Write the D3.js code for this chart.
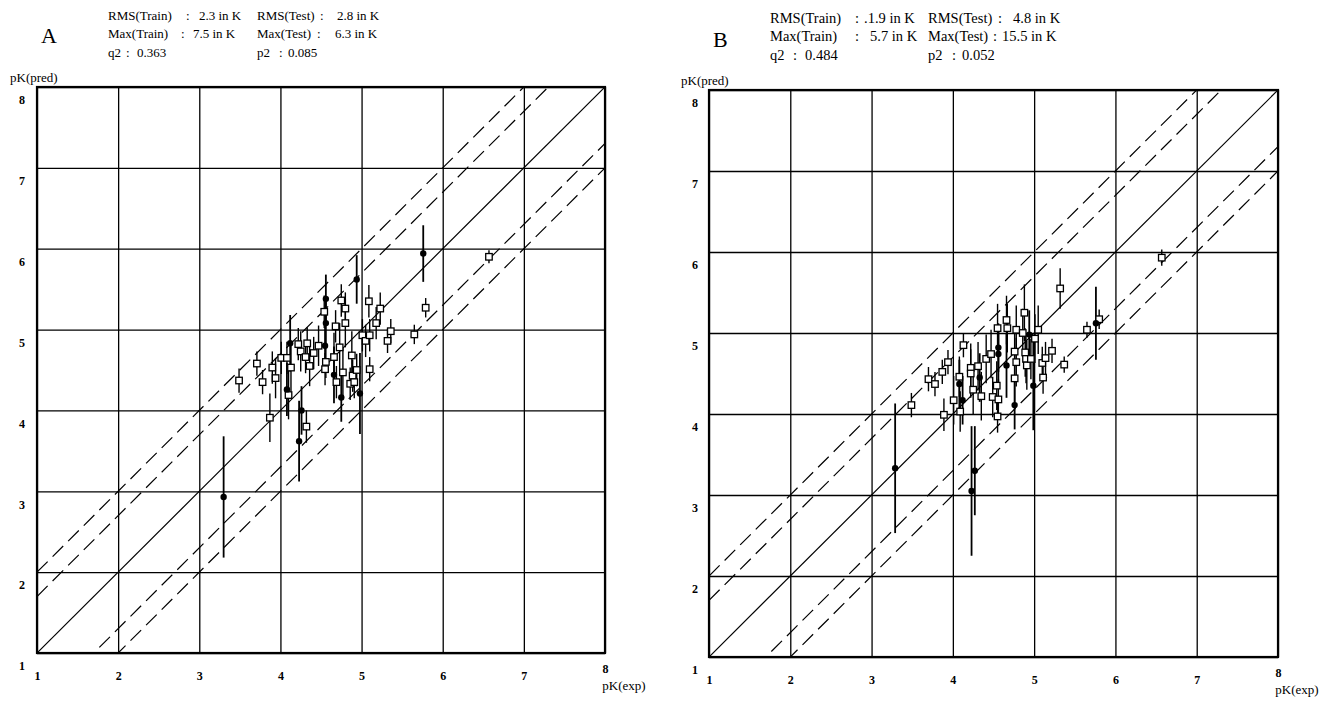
<!DOCTYPE html>
<html><head><meta charset="utf-8">
<script src="https://cdn.jsdelivr.net/npm/d3@7/dist/d3.min.js"></script>
<style>
body{margin:0;background:#fff;}
svg{display:block;}
text{font-family:"Liberation Serif","Times New Roman",serif;fill:#000;}
</style></head><body>
<svg id="c" width="1322" height="701"></svg>
<script>
// ---------- data ----------
const tickValues = [1,2,3,4,5,6,7,8];
const tickLabels = ["1","2","3","4","5","6","7","8"];
const diagOffsets = [0, 0.699, -0.699, 1, -1]; // y = x + c  (factor 5 and 10)

// Panel A – training set (open squares)
const trainA_x = [3.49,3.71,3.78,3.90,3.94,3.87,4.01,4.08,4.10,4.13,4.22,4.25,4.32,4.31,4.33,4.36,4.41,4.47,4.56,4.55,4.66,4.68,4.73,4.69,4.77,4.80,4.88,4.86,4.89,4.91,4.94,5.01,5.05,5.10,5.10,5.18,5.36,5.32,5.65,6.57,5.79,5.23,4.54,4.75,4.80,5.09];
const trainA_y = [4.37,4.58,4.35,4.53,4.40,3.91,4.65,4.65,4.19,4.53,4.82,4.73,3.80,4.66,4.83,4.55,4.71,4.80,4.60,4.51,4.66,5.04,4.78,4.35,4.47,5.08,4.68,4.33,4.43,4.35,4.50,4.93,4.86,4.93,4.51,5.08,4.98,4.86,4.94,5.90,5.27,5.26,5.22,5.36,5.26,5.35];
const trainA_e = [0.15,0.15,0.15,0.20,0.25,0.30,0.20,0.20,0.30,0.30,0.20,0.25,0.20,0.20,0.20,0.25,0.20,0.25,0.20,0.20,0.30,0.20,0.30,0.20,0.30,0.30,0.30,0.20,0.20,0.20,0.20,0.20,0.20,0.20,0.15,0.20,0.15,0.15,0.12,0.08,0.12,0.20,0.20,0.20,0.20,0.20];
// Panel A – test set (filled markers)
const testA_x = [3.30,4.26,4.23,4.08,4.12,4.56,4.55,4.66,4.75,4.98,5.76,4.94,4.56];
const testA_y = [2.93,4.00,3.62,4.26,4.83,5.08,4.80,4.44,4.16,4.21,5.94,5.62,5.38];
const testA_e = [0.75,0.30,0.50,0.33,0.35,0.30,0.30,0.35,0.30,0.50,0.35,0.30,0.30];

// Panel B – training set (open squares)
const trainB_x = [3.49,3.89,3.70,3.78,3.87,3.94,4.13,4.01,4.09,4.08,4.22,4.22,4.31,4.25,4.35,4.41,4.47,4.54,4.49,4.56,4.55,4.55,4.66,4.67,4.76,4.78,4.88,4.86,4.78,4.76,4.89,4.90,4.91,5.01,5.05,4.96,5.10,5.11,5.14,5.22,5.32,5.37,5.65,5.80,6.57];
const trainB_y = [4.11,3.99,4.43,4.37,4.52,4.64,4.85,4.17,4.03,4.46,4.57,4.50,4.59,4.30,4.22,4.68,4.74,4.35,4.21,4.18,3.97,5.06,5.16,5.06,4.77,5.04,5.25,5.00,4.64,4.44,4.76,4.68,4.60,4.93,5.04,4.68,4.63,4.45,4.69,4.78,5.55,4.61,5.04,5.17,5.93];
const trainB_e = [0.15,0.20,0.15,0.15,0.15,0.15,0.15,0.30,0.25,0.25,0.30,0.30,0.30,0.30,0.30,0.30,0.30,0.30,0.25,0.25,0.20,0.30,0.30,0.30,0.30,0.30,0.35,0.30,0.30,0.30,0.30,0.30,0.30,0.30,0.30,0.25,0.20,0.20,0.20,0.15,0.25,0.10,0.10,0.12,0.10];
// Panel B – test set (filled markers)
const testB_x = [3.29,4.27,4.23,4.08,4.12,4.33,4.56,4.56,4.66,4.76,4.94,4.99,5.76];
const testB_y = [3.33,3.30,3.05,4.37,4.17,4.45,4.82,4.74,4.60,4.11,4.98,4.35,5.12];
const testB_e = [0.80,0.55,0.80,0.30,0.30,0.30,0.30,0.35,0.40,0.30,0.30,0.55,0.45];

// Header texts: [label, value] per cell, rows of two columns
const headerA_letter = "A";
const headerA_rows = [[["RMS(Train)","2.3 in K"],["RMS(Test)","2.8 in K"]],
                      [["Max(Train)","7.5 in K"],["Max(Test)","6.3 in K"]],
                      [["q2","0.363"],["p2","0.085"]]];
const headerB_letter = "B";
const headerB_rows = [[["RMS(Train)",".1.9 in K"],["RMS(Test)","4.8 in K"]],
                      [["Max(Train)","5.7 in K"],["Max(Test)","15.5 in K"]],
                      [["q2","0.484"],["p2","0.052"]]];

// ---------- drawing ----------
const svg = d3.select("#c");

function panel(cfg){
  const {x0,x1,y0,y1,train,test,id} = cfg;
  const x = d3.scaleLinear().domain([1,8]).range([x0,x1]);
  const y = d3.scaleLinear().domain([1,8]).range([y1,y0]);
  const g = svg.append("g");

  // header
  g.append("text").attr("x",cfg.letterX).attr("y",cfg.letterY).attr("font-size",22).text(cfg.letter);
  cfg.rows.forEach((r,i)=>{
    r.forEach((cell,j)=>{
      const lay = cfg.layout[i][j];
      const yy = cfg.rowY[i];
      g.append("text").attr("x",lay[0]).attr("y",yy).attr("font-size",cfg.fs).text(cell[0]);
      g.append("text").attr("x",lay[1]).attr("y",yy).attr("font-size",cfg.fs).text(":");
      g.append("text").attr("x",lay[2]).attr("y",yy).attr("font-size",cfg.fs).text(cell[1]);
    });
  });
  g.append("text").attr("x",cfg.predX).attr("y",y0-5).attr("font-size",13).text("pK(pred)");

  // clip
  svg.append("clipPath").attr("id","clip"+id).append("rect")
    .attr("x",x0).attr("y",y0).attr("width",x1-x0).attr("height",y1-y0);

  // grid via axes
  const gx = g.append("g").attr("transform",`translate(0,${y1})`)
    .call(d3.axisBottom(x).tickValues(tickValues).tickSize(-(y1-y0)).tickFormat((d,i)=>tickLabels[i]).tickPadding(0));
  gx.select(".domain").remove();
  gx.selectAll("line").attr("stroke","#000").attr("stroke-width",1.3);
  gx.selectAll("text").attr("font-family","Liberation Serif").attr("font-weight","bold").attr("font-size",12)
    .attr("dy",null).attr("y",(d)=> d===8?20:27);
  g.append("text").attr("x",x(8)+19).attr("y",y1+37).attr("text-anchor","middle").attr("font-size",13).text("pK(exp)");

  const gy = g.append("g").attr("transform",`translate(${x0},0)`)
    .call(d3.axisLeft(y).tickValues(tickValues).tickSize(-(x1-x0)).tickFormat((d,i)=>tickLabels[i]).tickPadding(0));
  gy.select(".domain").remove();
  gy.selectAll("line").attr("stroke","#000").attr("stroke-width",1.3);
  gy.selectAll("text").attr("font-family","Liberation Serif").attr("font-weight","bold").attr("font-size",12)
    .attr("text-anchor","middle").attr("x",cfg.yLabelDx).attr("dy","0.32em").attr("y",13);

  // frame
  g.append("rect").attr("x",x0).attr("y",y0).attr("width",x1-x0).attr("height",y1-y0)
    .attr("fill","none").attr("stroke","#000").attr("stroke-width",2.2);

  // diagonals
  const dg = g.append("g").attr("clip-path",`url(#clip${id})`);
  diagOffsets.forEach(c=>{
    dg.append("line").attr("x1",x(1)).attr("y1",y(1+c)).attr("x2",x(8)).attr("y2",y(8+c))
      .attr("stroke","#000").attr("stroke-width",1.2)
      .attr("stroke-dasharray", c===0?null:"15,7");
  });

  // error bars
  const tr = train.x.map((v,i)=>({x:v,y:train.y[i],e:train.e[i]}));
  const te = test.x.map((v,i)=>({x:v,y:test.y[i],e:test.e[i]}));
  const eb = g.append("g").attr("clip-path",`url(#clip${id})`);
  eb.selectAll(".et").data(tr).join("line")
    .attr("x1",d=>x(d.x)).attr("x2",d=>x(d.x)).attr("y1",d=>y(d.y-d.e)).attr("y2",d=>y(d.y+d.e))
    .attr("stroke","#000").attr("stroke-width",1.4);
  eb.selectAll(".es").data(te).join("line")
    .attr("x1",d=>x(d.x)).attr("x2",d=>x(d.x)).attr("y1",d=>y(d.y-d.e)).attr("y2",d=>y(d.y+d.e))
    .attr("stroke","#000").attr("stroke-width",1.8);
  // markers
  const s = 6.5;
  g.selectAll(".sq").data(tr).join("rect")
    .attr("x",d=>x(d.x)-s/2).attr("y",d=>y(d.y)-s/2).attr("width",s).attr("height",s)
    .attr("fill","#fff").attr("stroke","#000").attr("stroke-width",1.3);
  g.selectAll(".ci").data(te).join("circle")
    .attr("cx",d=>x(d.x)).attr("cy",d=>y(d.y)).attr("r",3.2).attr("fill","#000");
}

panel({id:"A",x0:37,x1:605,y0:87,y1:653,
  train:{x:trainA_x,y:trainA_y,e:trainA_e}, test:{x:testA_x,y:testA_y,e:testA_e},
  letter:headerA_letter, rows:headerA_rows, letterX:41, letterY:43, rowY:[20,38,57], fs:13,
  layout:[[[108,186,199],[257,320,337]],[[108,181,193],[257,317,335]],[[108,126,137],[257,279,288]]],
  predX:10, yLabelDx:-15});
panel({id:"B",x0:709,x1:1278,y0:90,y1:657,
  train:{x:trainB_x,y:trainB_y,e:trainB_e}, test:{x:testB_x,y:testB_y,e:testB_e},
  letter:headerB_letter, rows:headerB_rows, letterX:713, letterY:47, rowY:[23,41,60], fs:14.5,
  layout:[[[770,855,864],[928,998,1013]],[[770,855,870],[928,993,1002]],[[770,793,805],[928,952,962]]],
  predX:681, yLabelDx:-14});
</script>
</body></html>
